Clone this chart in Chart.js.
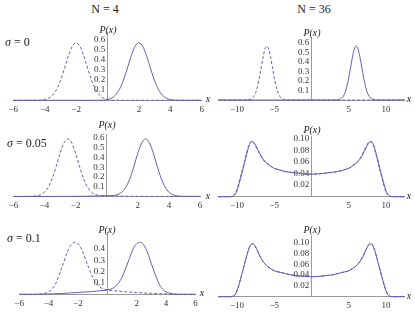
<!DOCTYPE html>
<html>
<head>
<meta charset="utf-8">
<script src="https://cdn.jsdelivr.net/npm/chart.js@4.4.1/dist/chart.umd.min.js"></script>
<style>
  html, body { margin: 0; padding: 0; background: #fff; }
  #fig { position: relative; width: 415px; height: 313px; overflow: hidden;
         font-family: 'Liberation Serif', 'Times New Roman', serif; color: #222; }
  #fig canvas { position: absolute; }
  .lbl { position: absolute; white-space: nowrap; line-height: 1; transform: translate(-50%, -50%); }
  .title { font-size: 12px; }
  .sig { font-size: 12px; transform: translate(0, -50%); }
  .ax { font-size: 10px; font-style: italic; }
</style>
</head>
<body>
<div id="fig">
  <canvas id="c1" width="210" height="100" style="left:0;top:20px"></canvas>
  <canvas id="c2" width="205" height="100" style="left:210px;top:20px"></canvas>
  <canvas id="c3" width="210" height="98" style="left:0;top:118px"></canvas>
  <canvas id="c4" width="205" height="98" style="left:210px;top:118px"></canvas>
  <canvas id="c5" width="210" height="98" style="left:0;top:215px"></canvas>
  <canvas id="c6" width="205" height="98" style="left:210px;top:215px"></canvas>

  <span class="lbl title" style="left:105px;top:9px">N = 4</span>
  <span class="lbl title" style="left:314px;top:9px">N = 36</span>
  <span class="lbl sig" style="left:5px;top:42px"><i>σ</i> = 0</span>
  <span class="lbl sig" style="left:7px;top:143px"><i>σ</i> = 0.05</span>
  <span class="lbl sig" style="left:7px;top:238px"><i>σ</i> = 0.1</span>

  <span class="lbl ax" style="left:108px;top:30px">P(x)</span>
  <span class="lbl ax" style="left:312px;top:33px">P(x)</span>
  <span class="lbl ax" style="left:107px;top:125px">P(x)</span>
  <span class="lbl ax" style="left:312px;top:130px">P(x)</span>
  <span class="lbl ax" style="left:107px;top:230px">P(x)</span>
  <span class="lbl ax" style="left:312px;top:230px">P(x)</span>

  <span class="lbl ax" style="left:208px;top:99px">x</span>
  <span class="lbl ax" style="left:208px;top:196px">x</span>
  <span class="lbl ax" style="left:202px;top:293px">x</span>
  <span class="lbl ax" style="left:409px;top:99px">x</span>
  <span class="lbl ax" style="left:409px;top:196px">x</span>
  <span class="lbl ax" style="left:409px;top:296px">x</span>
</div>
<script>
// sample positions
const xs4 = [-6, -5, -4.5, -4.25, -4, -3.75, -3.5, -3.25, -3, -2.75, -2.5, -2.25, -2, -1.75, -1.5, -1.25, -1, -0.75, -0.5, -0.25,
  0, 0.25, 0.5, 0.75, 1, 1.25, 1.5, 1.75, 2, 2.25, 2.5, 2.75, 3, 3.25, 3.5, 3.75, 4, 4.25, 4.5, 5, 6];
const xs36a = [-12.5, -10, -9, -8.5, -8.25, -8, -7.75, -7.5, -7.25, -7, -6.75, -6.5, -6.25, -6, -5.75, -5.5, -5.25, -5, -4.75,
  -4.5, -4.25, -4, -3.75, -3.5, -3, 0, 3, 3.5, 3.75, 4, 4.25, 4.5, 4.75, 5, 5.25, 5.5, 5.75, 6, 6.25, 6.5, 6.75, 7, 7.25,
  7.5, 7.75, 8, 8.25, 8.5, 9, 10, 12.5];
const xs36 = [-12.5, -11, -10.5, -10.25, -10, -9.75, -9.5, -9.25, -9, -8.75, -8.5, -8.25, -8, -7.75, -7.5, -7.25, -7,
  -6.5, -6, -5.5, -5, -4.5, -4, -3, -2, -1, 0, 1, 2, 3, 4, 4.5, 5, 5.5, 6, 6.5,
  7, 7.25, 7.5, 7.75, 8, 8.25, 8.5, 8.75, 9, 9.25, 9.5, 9.75, 10, 10.25, 10.5, 11, 12.5];

// N = 4, sigma = 0
const n4s0Solid = [0, 0, 0, 0, 0, 0, 0, 0, 0, 0, 0, 0, 0, 0, 0, 0, 0, 0, 0.0007, 0.002,
  0.0075, 0.021, 0.05, 0.105, 0.192, 0.308, 0.432, 0.529, 0.566, 0.529, 0.432, 0.308, 0.192, 0.105, 0.05, 0.021, 0.0075, 0.002, 0.0007, 0, 0];
const n4s0Dashed = [0, 0, 0.0007, 0.002, 0.0075, 0.021, 0.05, 0.105, 0.192, 0.308, 0.432, 0.529, 0.566, 0.529, 0.432, 0.308, 0.192, 0.105, 0.05, 0.021,
  0.0075, 0.002, 0.0007, 0, 0, 0, 0, 0, 0, 0, 0, 0, 0, 0, 0, 0, 0, 0, 0, 0, 0];
// N = 4, sigma = 0.05
const n4s05Solid = [0, 0, 0, 0, 0, 0, 0, 0.0005, 0.001, 0.001, 0.001, 0.0015, 0.002, 0.002, 0.0025, 0.003, 0.004, 0.005, 0.006, 0.007,
  0.008, 0.009, 0.012, 0.022, 0.048, 0.1, 0.188, 0.309, 0.443, 0.549, 0.59, 0.549, 0.443, 0.309, 0.187, 0.098, 0.045, 0.018, 0.007, 0.002, 0.001];
const n4s05Dashed = [0.001, 0.002, 0.007, 0.018, 0.045, 0.098, 0.187, 0.309, 0.443, 0.549, 0.59, 0.549, 0.443, 0.309, 0.188, 0.1, 0.048, 0.022, 0.012, 0.009,
  0.008, 0.007, 0.006, 0.005, 0.004, 0.003, 0.0025, 0.002, 0.002, 0.0015, 0.001, 0.001, 0.001, 0.0005, 0, 0, 0, 0, 0, 0, 0];
// N = 4, sigma = 0.1
const n4s1Solid = [0, 0, 0.001, 0.002, 0.003, 0.004, 0.005, 0.007, 0.008, 0.01, 0.012, 0.014, 0.016, 0.018, 0.02, 0.022, 0.025, 0.028, 0.031, 0.034,
  0.038, 0.046, 0.064, 0.098, 0.15, 0.23, 0.315, 0.4, 0.448, 0.46, 0.432, 0.365, 0.27, 0.18, 0.098, 0.048, 0.021, 0.009, 0.003, 0, 0];
const n4s1Dashed = [0, 0, 0.003, 0.009, 0.021, 0.048, 0.098, 0.18, 0.27, 0.365, 0.432, 0.46, 0.448, 0.4, 0.315, 0.23, 0.15, 0.098, 0.064, 0.046,
  0.038, 0.034, 0.031, 0.028, 0.025, 0.022, 0.02, 0.018, 0.016, 0.014, 0.012, 0.01, 0.008, 0.007, 0.005, 0.004, 0.003, 0.002, 0.001, 0, 0];

// N = 36, sigma = 0
const n36s0Solid = [0, 0, 0, 0, 0, 0, 0, 0, 0, 0, 0, 0, 0, 0, 0, 0, 0, 0, 0, 0, 0, 0, 0, 0, 0, 0, 0,
  0.0021, 0.0063, 0.016, 0.037, 0.076, 0.141, 0.234, 0.343, 0.452, 0.534, 0.565, 0.534, 0.452, 0.343, 0.234, 0.141, 0.076, 0.037, 0.016, 0.0063, 0.0021,
  0, 0, 0];
const n36s0Dashed = [0, 0, 0,
  0.0021, 0.0063, 0.016, 0.037, 0.076, 0.141, 0.234, 0.343, 0.452, 0.534, 0.565, 0.534, 0.452, 0.343, 0.234, 0.141, 0.076, 0.037, 0.016, 0.0063, 0.0021,
  0, 0, 0, 0, 0, 0, 0, 0, 0, 0, 0, 0, 0, 0, 0, 0, 0, 0, 0, 0, 0, 0, 0, 0, 0, 0, 0];
// N = 36, sigma = 0.05
const n36s05Solid = [0, 0, 0.001, 0.004, 0.01, 0.021, 0.033, 0.045, 0.058, 0.071, 0.083, 0.092, 0.0955, 0.094, 0.089, 0.083, 0.076,
  0.065, 0.058, 0.053, 0.049, 0.047, 0.045, 0.0425, 0.041, 0.0395, 0.039, 0.0395, 0.041, 0.0425, 0.045, 0.047, 0.049, 0.053, 0.058, 0.065,
  0.076, 0.083, 0.089, 0.094, 0.0955, 0.092, 0.083, 0.071, 0.058, 0.045, 0.033, 0.021, 0.01, 0.004, 0.001, 0, 0];
const n36s05Dashed = [0, 0, 0.002, 0.006, 0.013, 0.024, 0.036, 0.048, 0.061, 0.074, 0.086, 0.094, 0.096, 0.093, 0.087, 0.081, 0.075,
  0.064, 0.057, 0.053, 0.049, 0.047, 0.045, 0.0425, 0.041, 0.0395, 0.039, 0.0395, 0.041, 0.0425, 0.045, 0.047, 0.049, 0.054, 0.059, 0.066,
  0.078, 0.085, 0.091, 0.095, 0.095, 0.09, 0.08, 0.068, 0.055, 0.042, 0.03, 0.018, 0.008, 0.003, 0.001, 0, 0];
// N = 36, sigma = 0.1 (both curves coincide)
const n36s1Solid = [0, 0, 0.001, 0.004, 0.011, 0.022, 0.034, 0.047, 0.06, 0.073, 0.085, 0.094, 0.098, 0.097, 0.092, 0.085, 0.077,
  0.065, 0.057, 0.052, 0.048, 0.046, 0.0445, 0.041, 0.039, 0.0376, 0.037, 0.0376, 0.039, 0.041, 0.0445, 0.046, 0.048, 0.052, 0.057, 0.065,
  0.077, 0.085, 0.092, 0.097, 0.098, 0.094, 0.085, 0.073, 0.06, 0.047, 0.034, 0.022, 0.011, 0.004, 0.001, 0, 0];
const n36s1Dashed = n36s1Solid;

// ticks
const xTicks4 = [-6, -4, -2, 2, 4, 6];
const xTicks36 = [-10, -5, 5, 10];
const yTicksBig = [0.1, 0.2, 0.3, 0.4, 0.5, 0.6];
const yTicksLow = [0.1, 0.2, 0.3, 0.4];
const yTicksSmall = [0.02, 0.04, 0.06, 0.08, 0.10];

const lineColor = 'rgb(95,95,185)';
const axisColor = '#9a9a9a';
const tickFont = { family: 'Liberation Serif', size: 9 };

const panels = [
  { id: 'c1', xs: xs4, solid: n4s0Solid, dashed: n4s0Dashed, xMin: -6, xMax: 6, yMax: 0.67,
    xTicks: xTicks4, yTicks: yTicksBig, dec: 1, pad: { left: 13.3, right: 8.3, top: 12.2, bottom: 19.7 } },
  { id: 'c2', xs: xs36a, solid: n36s0Solid, dashed: n36s0Dashed, xMin: -12.5, xMax: 12.5, yMax: 0.66,
    xTicks: xTicks36, yTicks: yTicksBig, dec: 1, pad: { left: 8.4, right: 10.4, top: 17, bottom: 20 } },
  { id: 'c3', xs: xs4, solid: n4s05Solid, dashed: n4s05Dashed, xMin: -6, xMax: 6, yMax: 0.64,
    xTicks: xTicks4, yTicks: yTicksBig, dec: 1, pad: { left: 13.4, right: 10, top: 16, bottom: 19.5 } },
  { id: 'c4', xs: xs36, solid: n36s05Solid, dashed: n36s05Dashed, xMin: -12.5, xMax: 12.5, yMax: 0.105,
    xTicks: xTicks36, yTicks: yTicksSmall, dec: 2, pad: { left: 8.4, right: 10.4, top: 18, bottom: 19.3 } },
  { id: 'c5', xs: xs4, solid: n4s1Solid, dashed: n4s1Dashed, xMin: -6, xMax: 6, yMax: 0.551,
    xTicks: xTicks4, yTicks: yTicksLow, dec: 1, pad: { left: 19.1, right: 14.5, top: 17, bottom: 18.7 } },
  { id: 'c6', xs: xs36, solid: n36s1Solid, dashed: n36s1Dashed, xMin: -12.5, xMax: 12.5, yMax: 0.111,
    xTicks: xTicks36, yTicks: yTicksSmall, dec: 2, pad: { left: 8.4, right: 10.4, top: 21.7, bottom: 16.3 } }
];

function toPoints(xs, ys) {
  return xs.map((x, i) => ({ x: x, y: ys[i] }));
}

function fmtX(v) {
  return v < 0 ? '\u2212' + Math.abs(v) : String(v);
}

panels.forEach(p => {
  new Chart(document.getElementById(p.id), {
    type: 'line',
    data: {
      datasets: [
        { data: toPoints(p.xs, p.dashed), borderColor: lineColor, borderWidth: 1, borderDash: [3, 2],
          pointRadius: 0, cubicInterpolationMode: 'monotone', fill: false, clip: false },
        { data: toPoints(p.xs, p.solid), borderColor: lineColor, borderWidth: 1,
          pointRadius: 0, cubicInterpolationMode: 'monotone', fill: false, clip: false }
      ]
    },
    options: {
      responsive: false,
      animation: false,
      devicePixelRatio: 1,
      events: [],
      layout: { padding: p.pad },
      plugins: { legend: { display: false }, tooltip: { enabled: false } },
      scales: {
        x: {
          type: 'linear', min: p.xMin, max: p.xMax, position: { y: 0 },
          afterBuildTicks: s => { s.ticks = p.xTicks.map(v => ({ value: v })); },
          grid: { display: false, drawTicks: false },
          border: { display: true, color: axisColor, width: 1 },
          ticks: { font: tickFont, color: '#333', padding: 4, maxRotation: 0, autoSkip: false, callback: v => fmtX(v) }
        },
        y: {
          type: 'linear', min: 0, max: p.yMax, position: { x: 0 },
          afterBuildTicks: s => { s.ticks = p.yTicks.map(v => ({ value: v })); },
          grid: { display: false, drawTicks: false },
          border: { display: true, color: axisColor, width: 1 },
          ticks: { font: tickFont, color: '#333', padding: 3, autoSkip: false, callback: v => v.toFixed(p.dec) + ' ' }
        }
      }
    }
  });
});
</script>
</body>
</html>
